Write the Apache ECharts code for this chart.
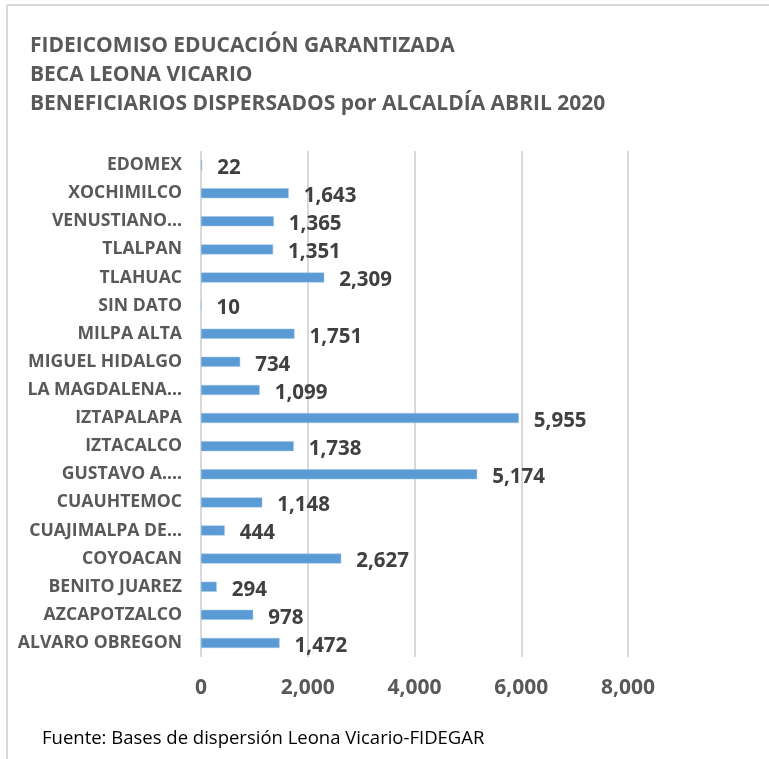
<!DOCTYPE html>
<html><head><meta charset="utf-8">
<script src="https://cdn.jsdelivr.net/npm/echarts@6/dist/echarts.min.js"></script>
<style>html,body{margin:0;padding:0;background:#fff}#c{width:769px;height:759px}</style>
</head><body><div id="c"></div>
<script>
const categories = ["ALVARO OBREGON","AZCAPOTZALCO","BENITO JUAREZ","COYOACAN","CUAJIMALPA DE...","CUAUHTEMOC","GUSTAVO A....","IZTACALCO","IZTAPALAPA","LA MAGDALENA...","MIGUEL HIDALGO","MILPA ALTA","SIN DATO","TLAHUAC","TLALPAN","VENUSTIANO...","XOCHIMILCO","EDOMEX"];
const values = [1472,978,294,2627,444,1148,5174,1738,5955,1099,734,1751,10,2309,1351,1365,1643,22];
const titleLines = ["FIDEICOMISO EDUCACIÓN GARANTIZADA","BECA LEONA VICARIO","BENEFICIARIOS DISPERSADOS por ALCALDÍA ABRIL 2020"];
const sourceText = "Fuente: Bases de dispersión Leona Vicario-FIDEGAR";
const xMin = 0, xMax = 8000, xInterval = 2000;

const FONT = 'Open Sans';
const fmt = v => Number(v).toLocaleString('en-US');
const chart = echarts.init(document.getElementById('c'), null, {renderer:'canvas'});
chart.setOption({
  animation:false,
  backgroundColor:'#fff',
  title:{
    text: titleLines.join('\n'),
    left:25, top:27,
    textStyle:{fontFamily:FONT,fontWeight:'bold',fontSize:21,color:'#595959',lineHeight:29}
  },
  grid:{left:201,right:141,top:151,bottom:102,containLabel:false},
  xAxis:{
    type:'value',min:xMin,max:xMax,interval:xInterval,
    axisLine:{show:false},axisTick:{show:false},
    splitLine:{show:true,lineStyle:{color:'#d9d9d9',width:2}},
    axisLabel:{formatter:fmt,margin:21,fontFamily:FONT,fontWeight:'bold',fontSize:21,color:'#595959'}
  },
  yAxis:{
    type:'category',data:categories,
    axisLine:{show:false},axisTick:{show:false},
    axisLabel:{margin:19,fontFamily:FONT,fontWeight:'bold',fontSize:17.6,color:'#595959'}
  },
  series:[{
    type:'bar',data:values,barWidth:10,
    itemStyle:{color:'#5b9bd5',borderColor:'#9cc3e6',borderWidth:0.5},
    label:{show:true,position:'right',distance:15,offset:[0,3],formatter:p=>fmt(p.value),
      fontFamily:FONT,fontWeight:'bold',fontSize:20.5,color:'#404040'}
  }],
  graphic:[
    {type:'line',shape:{x1:7,y1:5,x2:769,y2:5},style:{stroke:'#d9d9d9',lineWidth:2},silent:true},
    {type:'line',shape:{x1:7,y1:5,x2:7,y2:759},style:{stroke:'#d9d9d9',lineWidth:2},silent:true},
    {type:'text',left:42,top:729,style:{text:sourceText,fontFamily:FONT,fontSize:18.5,fill:'#000'}}
  ]
});
</script></body></html>
